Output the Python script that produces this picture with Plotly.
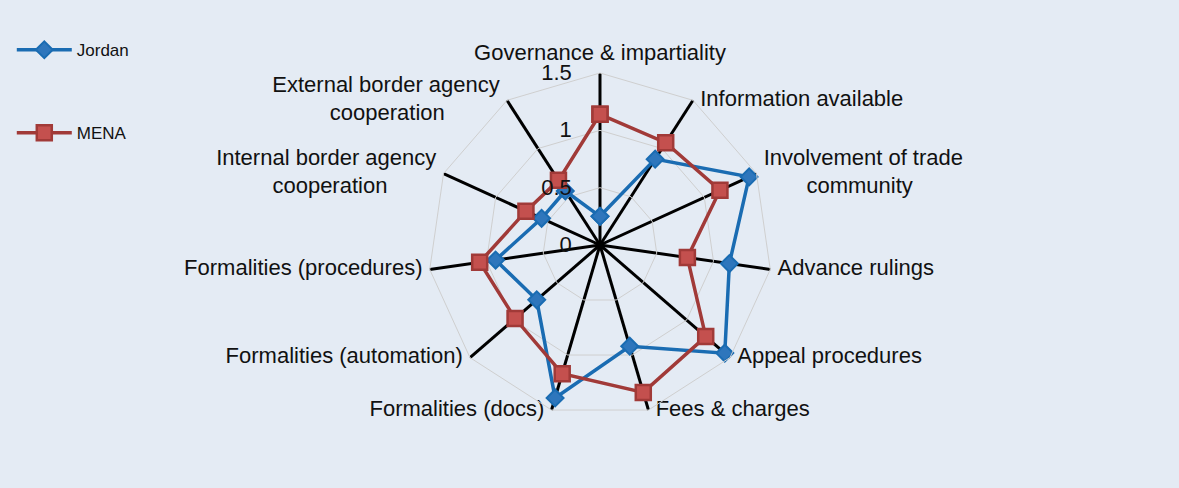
import plotly.graph_objects as go

NB = "\u00a0"

categories = [
    "Governance & impartiality",
    "Information available",
    "Involvement of trade community",
    "Advance rulings",
    "Appeal procedures",
    "Fees & charges",
    "Formalities (docs)",
    "Formalities (automation)",
    "Formalities (procedures)",
    "Internal border agency cooperation",
    "External border agency cooperation",
]
jordan = [0.25, 0.89, 1.43, 1.14, 1.44, 0.92, 1.39, 0.73, 0.92, 0.56, 0.56]
mena = [1.14, 1.06, 1.15, 0.77, 1.22, 1.34, 1.17, 0.98, 1.06, 0.71, 0.67]
radial_ticks = [0, 0.5, 1, 1.5]
radial_labels = ["0", "0.5", "1", "1.5"]

# category labels as drawn (line breaks, nbsp padding to centre the short line)
label_text = [
    "Governance & impartiality",
    "Information available",
    "Involvement of trade<br>" + NB * 7 + "community",
    "Advance rulings",
    "Appeal procedures",
    "Fees & charges",
    "Formalities (docs)",
    "Formalities (automation)",
    "Formalities (procedures)",
    "Internal border agency<br>cooperation" + NB * 8,
    "External border agency<br>cooperation" + NB * 9,
]
label_pos = ["top center"] + ["middle right"] * 5 + ["middle left"] * 5

BG = "#E4EBF4"
FONT = "Liberation Sans Narrow, Arial Narrow, Liberation Sans, Arial"

fig = go.Figure()

# close the polygons
fig.add_trace(go.Scatterpolar(
    r=jordan + jordan[:1],
    theta=categories + categories[:1],
    name="Jordan",
    mode="lines+markers",
    line=dict(color="#1A6CB2", width=3.5),
    marker=dict(symbol="diamond", size=13, color="#2E76BC",
                line=dict(color="#1A6CB2", width=2)),
    legendgroup="a",
))
fig.add_trace(go.Scatterpolar(
    r=mena + mena[:1],
    theta=categories + categories[:1],
    name="MENA",
    mode="lines+markers",
    line=dict(color="#A13A38", width=3.5),
    marker=dict(symbol="square", size=15, color="#C4504E",
                line=dict(color="#A13A38", width=2.5)),
    legendgroup="b",
))

# axis labels placed at the outer ring (invisible markers give a small gap)
fig.add_trace(go.Scatterpolar(
    r=[max(radial_ticks)] * len(categories),
    theta=categories,
    mode="markers+text",
    marker=dict(size=10, color="rgba(0,0,0,0)"),
    text=label_text,
    textposition=label_pos,
    textfont=dict(size=22, family=FONT, color="#111111"),
    cliponaxis=False,
    showlegend=False,
    hoverinfo="skip",
))

# tick labels sit left of the top spoke: pad with non-breaking spaces
tick_text = [t + NB * 4 for t in radial_labels]

fig.update_layout(
    width=1179,
    height=488,
    paper_bgcolor=BG,
    margin=dict(l=0, r=0, t=0, b=0),
    font=dict(family=FONT, color="#111111", size=22),
    showlegend=True,
    legend=dict(
        x=0.010, y=0.934, xanchor="left", yanchor="top",
        bgcolor="rgba(0,0,0,0)",
        font=dict(size=17, family=FONT),
        tracegroupgap=58,
        itemwidth=55,
    ),
    polar=dict(
        domain=dict(x=[0.3630, 0.6548], y=[0.1455, 0.8504]),
        bgcolor=BG,
        gridshape="linear",
        angularaxis=dict(
            direction="clockwise",
            rotation=90,
            showgrid=True,
            gridcolor="#000000",
            gridwidth=2.5,
            linecolor="#CFCFCF",
            linewidth=1,
            ticks="",
            showticklabels=False,
        ),
        radialaxis=dict(
            range=[0, 1.5],
            tickvals=radial_ticks,
            ticktext=tick_text,
            angle=90,
            tickangle=90,
            side="counterclockwise",
            showline=False,
            ticks="",
            gridcolor="#CFCFCF",
            gridwidth=1,
            tickfont=dict(size=22, family=FONT),
        ),
    ),
)

fig.write_html("out.html", config={"displayModeBar": False},
               post_script="document.body.style.margin='0';")
